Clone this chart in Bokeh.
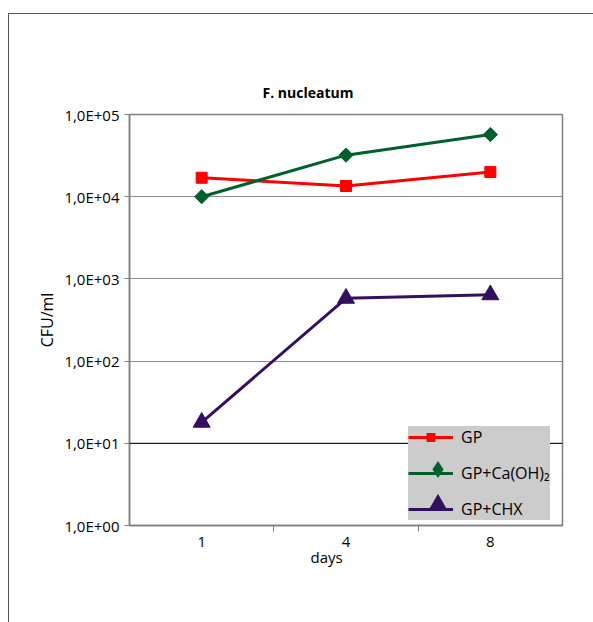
import math
from bokeh.plotting import figure
from bokeh.models import (Range1d, FixedTicker, Legend, LegendItem, Span, ColumnDataSource,
                          Title, InlineStyleSheet)
from bokeh.embed import file_html
from bokeh.resources import INLINE

days = ["1", "4", "8"]
gp = [17000, 13500, 20000]
gp_caoh = [10000, 32000, 57000]
gp_chx = [18, 580, 640]
y_ticks = [1, 10, 100, 1000, 10000, 100000]
y_tick_labels = ["1,0E+00", "1,0E+01", "1,0E+02", "1,0E+03", "1,0E+04", "1,0E+05"]

FONT = "Open Sans"
xpos = [i + 0.5 for i in range(len(days))]

p = figure(width=593, height=622, output_backend="svg", toolbar_location=None,
           x_range=Range1d(0, len(days)), y_range=Range1d(1, 1e5), y_axis_type="log",
           min_border_left=129, min_border_right=31, min_border_top=114, min_border_bottom=97)
p.background_fill_color = "white"
p.border_fill_color = "white"
p.outline_line_color = "#7f7f7f"
p.outline_line_width = 1.5

p.title = Title(text="F. nucleatum", align="left", offset=133, standoff=26,
                text_font=FONT, text_font_size="14px", text_font_style="bold", text_color="black")

# x axis
xa = p.xaxis[0]
xa.ticker = FixedTicker(ticks=xpos, minor_ticks=[1, 2])
xa.major_label_overrides = {x: d for x, d in zip(xpos, days)}
xa.major_tick_out = 0
xa.major_tick_in = 0
xa.minor_tick_out = 6
xa.minor_tick_in = 0
xa.minor_tick_line_color = "#7f7f7f"
xa.axis_line_color = "#7f7f7f"
xa.axis_line_width = 1.5
xa.major_label_text_font = FONT
xa.major_label_text_font_size = "15px"
xa.major_label_text_color = "black"
xa.major_label_standoff = 5

p.add_layout(Title(text="days", align="left", offset=181, standoff=-9,
                   text_font=FONT, text_font_size="15px", text_font_style="normal",
                   text_color="black"), "below")

ya = p.yaxis[0]
ya.ticker = FixedTicker(ticks=y_ticks, minor_ticks=[])
ya.major_label_overrides = {t: l for t, l in zip(y_ticks, y_tick_labels)}
ya.major_tick_out = 5
ya.major_tick_in = 0
ya.major_tick_line_color = "#7f7f7f"
ya.axis_line_color = "#7f7f7f"
ya.axis_line_width = 1.5
ya.major_label_text_font = FONT
ya.major_label_text_font_size = "15px"
ya.major_label_text_color = "black"
ya.major_label_standoff = 5
ya.axis_label = "CFU/ml"
ya.axis_label_text_font = FONT
ya.axis_label_text_font_size = "16px"
ya.axis_label_text_font_style = "normal"
ya.axis_label_text_color = "black"
ya.axis_label_standoff = 3

p.xgrid.visible = False
p.ygrid.ticker = FixedTicker(ticks=y_ticks)
p.ygrid.grid_line_color = "#8c8c8c"
p.ygrid.grid_line_width = 1

p.add_layout(Span(location=10, dimension="width", line_color="black", line_width=1))

src = ColumnDataSource(dict(x=xpos, gp=gp, caoh=gp_caoh, chx=gp_chx))

RED, GREEN, PURPLE = "#ff0000", "#00602b", "#33105e"
r1l = p.line("x", "gp", source=src, line_color=RED, line_width=3)
r1m = p.scatter("x", "gp", source=src, marker="square", size=11, fill_color=RED, line_color=RED)
r2l = p.line("x", "caoh", source=src, line_color=GREEN, line_width=3)
r2m = p.scatter("x", "caoh", source=src, marker="square", angle=math.pi / 4, size=10,
                fill_color=GREEN, line_color=GREEN)
# diamond symbol used by the legend swatch (zero size on the plot, hidden under r2m)
r2leg = p.scatter("x", "caoh", source=src, marker="diamond", size=0, line_width=0,
                  fill_color=GREEN, line_color=GREEN)
r3l = p.line("x", "chx", source=src, line_color=PURPLE, line_width=3)
r3m = p.scatter("x", "chx", source=src, marker="triangle", size=17, fill_color=PURPLE, line_color=PURPLE)

legend = Legend(items=[
    LegendItem(label="GP", renderers=[r1l, r1m]),
    LegendItem(label="GP+Ca(OH)₂", renderers=[r2l]),
    LegendItem(label="GP+CHX", renderers=[r3l]),
], location=(279, 5))
legend.background_fill_color = "#cccccc"
legend.background_fill_alpha = 1
legend.border_line_color = None
legend.label_text_font = FONT
legend.label_text_font_size = "16px"
legend.label_text_color = "black"
legend.glyph_width = 45
legend.glyph_height = 20
legend.label_height = 20
legend.label_width = 86
legend.spacing = 14
legend.padding = 7
legend.margin = 0
legend.label_standoff = 8
p.add_layout(legend, "center")

# overlay legends carrying the larger diamond / triangle swatches
def overlay(renderer, gh, y):
    lg = Legend(items=[LegendItem(label="", renderers=[renderer])], location=(286, y))
    lg.background_fill_alpha = 0
    lg.border_line_color = None
    lg.glyph_width = 45
    lg.glyph_height = gh
    lg.label_height = 0
    lg.label_width = 0
    lg.label_standoff = 0
    lg.padding = 0
    lg.margin = 0
    lg.spacing = 0
    lg.label_text_font_size = "1px"
    return lg

p.add_layout(overlay(r2leg, 42, 35), "center")
p.add_layout(overlay(r3m, 38, 3), "center")

p.stylesheets = [InlineStyleSheet(css=(
    ":host::after { content: ''; position: absolute; left: 8px; top: 13px; right: 0; bottom: 0; "
    "border-left: 1.5px solid #555555; border-top: 1.5px solid #555555; pointer-events: none; }"
))]

open("out.html", "w").write(file_html(p, INLINE))
